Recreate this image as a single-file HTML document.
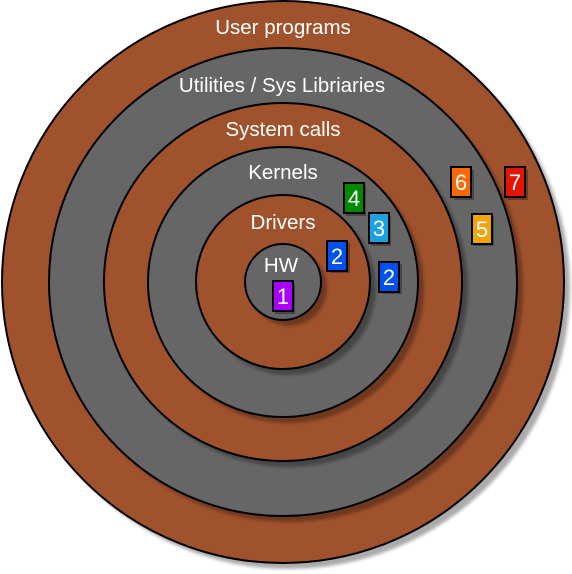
<!DOCTYPE html>
<html><head><meta charset="utf-8"><style>
html,body{margin:0;padding:0;background:#fff;}
svg{display:block;}
text{font-family:"Liberation Sans",Arial,sans-serif;fill:#fff;text-anchor:middle;}
</style></head><body>
<svg width="572" height="574" viewBox="0 0 572 574">
<defs><filter id="b" x="-10%" y="-10%" width="120%" height="120%"><feGaussianBlur stdDeviation="1.5"/></filter></defs>
<g>
<circle cx="289" cy="288" r="281" fill="#888" opacity="0.7" filter="url(#b)"/>
<circle cx="283" cy="282" r="281" fill="#a0522d" stroke="#000" stroke-width="2"/>
<circle cx="289" cy="288" r="234" fill="#000" opacity="0.3" filter="url(#b)"/>
<circle cx="283" cy="282" r="234" fill="#666" stroke="#000" stroke-width="2"/>
<circle cx="289" cy="288" r="179" fill="#000" opacity="0.3" filter="url(#b)"/>
<circle cx="283" cy="282" r="179" fill="#a0522d" stroke="#000" stroke-width="2"/>
<circle cx="289" cy="288" r="135" fill="#000" opacity="0.3" filter="url(#b)"/>
<circle cx="283" cy="282" r="135" fill="#666" stroke="#000" stroke-width="2"/>
<circle cx="289" cy="288" r="87" fill="#000" opacity="0.3" filter="url(#b)"/>
<circle cx="283" cy="282" r="87" fill="#a0522d" stroke="#000" stroke-width="2"/>
<circle cx="289" cy="288" r="38" fill="#000" opacity="0.3" filter="url(#b)"/>
<circle cx="283" cy="282" r="38" fill="#666" stroke="#000" stroke-width="2"/>
</g>
<g font-size="20.5">
<text x="283" y="34">User programs</text>
<text x="282" y="92">Utilities / Sys Libriaries</text>
<text x="283" y="136">System calls</text>
<text x="283" y="179">Kernels</text>
<text x="283" y="229">Drivers</text>
<text x="281" y="272">HW</text>
</g>
<g stroke="#000" stroke-width="2" font-size="22">
<g><rect x="275" y="284" width="20" height="30" fill="#000" opacity="0.3" stroke="none"/><rect x="273" y="281" width="20" height="30" fill="#aa00ff"/><text x="283" y="304" stroke="none">1</text></g>
<g><rect x="330" y="243" width="20" height="30" fill="#000" opacity="0.3" stroke="none"/><rect x="327" y="241" width="20" height="30" fill="#0050ef"/><text x="337" y="264" stroke="none">2</text></g>
<g><rect x="346" y="186" width="20" height="30" fill="#000" opacity="0.3" stroke="none"/><rect x="344" y="183" width="20" height="30" fill="#008a00"/><text x="354" y="206" stroke="none">4</text></g>
<g><rect x="371" y="216" width="20" height="30" fill="#000" opacity="0.3" stroke="none"/><rect x="369" y="213" width="20" height="30" fill="#1ba1e2"/><text x="379" y="236" stroke="none">3</text></g>
<g><rect x="382" y="264" width="20" height="30" fill="#000" opacity="0.3" stroke="none"/><rect x="379" y="262" width="20" height="30" fill="#0050ef"/><text x="389" y="285" stroke="none">2</text></g>
<g><rect x="454" y="170" width="20" height="30" fill="#000" opacity="0.3" stroke="none"/><rect x="451" y="167" width="20" height="30" fill="#fa6800"/><text x="461" y="190" stroke="none">6</text></g>
<g><rect x="474" y="216" width="20" height="30" fill="#000" opacity="0.3" stroke="none"/><rect x="472" y="214" width="20" height="30" fill="#f0a30a"/><text x="482" y="237" stroke="none">5</text></g>
<g><rect x="508" y="170" width="20" height="30" fill="#000" opacity="0.3" stroke="none"/><rect x="505" y="167" width="20" height="30" fill="#e51400"/><text x="515" y="190" stroke="none">7</text></g>
</g>
</svg>
</body></html>
